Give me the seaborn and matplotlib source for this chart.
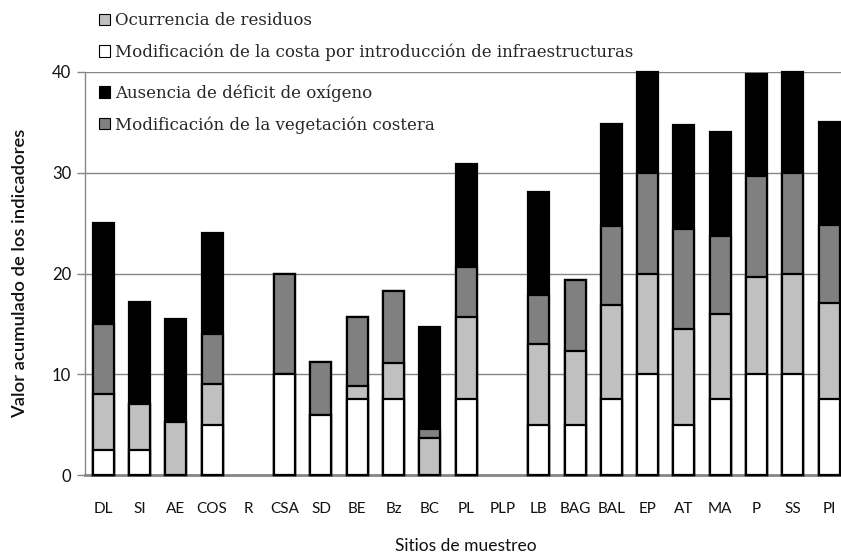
import matplotlib
matplotlib.use("Agg")
import matplotlib.pyplot as plt
from matplotlib.patches import Patch
import numpy as np
import pandas as pd
import seaborn as sns

# datos
sitios = ["DL", "SI", "AE", "COS", "R", "CSA", "SD", "BE", "Bz", "BC", "PL",
          "PLP", "LB", "BAG", "BAL", "EP", "AT", "MA", "P", "SS", "PI"]
costa = [2.5, 2.5, 0, 5, 0, 10, 6, 7.5, 7.5, 0, 7.5, 0, 5, 5, 7.5, 10, 5, 7.5, 10, 10, 7.5]
residuos = [5.5, 4.5, 5.3, 4, 0, 0, 0, 1.3, 3.6, 3.7, 8.2, 0, 8, 7.3, 9.4, 10, 9.5, 8.5, 9.7, 10, 9.6]
vegetacion = [7, 0, 0, 5, 0, 10, 5.2, 6.9, 7.2, 0.9, 4.9, 0, 4.9, 7.1, 7.8, 10, 9.9, 7.7, 10, 10, 7.7]
oxigeno = [10, 10.2, 10.2, 10, 0, 0, 0, 0, 0, 10.1, 10.3, 0, 10.2, 0, 10.1, 10, 10.3, 10.3, 10.1, 10, 10.2]

etiquetas = {
    "residuos": "Ocurrencia de residuos",
    "costa": "Modificación de la costa por introducción de infraestructuras",
    "oxigeno": "Ausencia de déficit de oxígeno",
    "vegetacion": "Modificación de la vegetación costera",
}
colores = {"costa": "#FFFFFF", "residuos": "#C0C0C0",
           "vegetacion": "#808080", "oxigeno": "#000000"}

sns.set_style("white")
plt.rcParams["font.family"] = ["Lato", "DejaVu Sans"]

df = pd.DataFrame({"sitio": sitios, "costa": costa, "residuos": residuos,
                   "vegetacion": vegetacion, "oxigeno": oxigeno})
# acumulados para apilar (de abajo hacia arriba)
capas = ["costa", "residuos", "vegetacion", "oxigeno"]
acum = df[capas].cumsum(axis=1)

fig = plt.figure(figsize=(8.41, 5.55), dpi=100)
ax = fig.add_axes([0.1011, 0.1441, 0.9064, 0.7262])

# se dibuja del total hacia abajo, cada capa tapa a la anterior
for capa in reversed(capas):
    sns.barplot(x=df["sitio"], y=acum[capa], order=sitios, ax=ax,
                color=colores[capa], saturation=1, width=0.58,
                edgecolor="black", linewidth=1.6, zorder=3)

for p in ax.patches:
    p.set_clip_on(False)
    if p.get_height() == 0:
        p.set_visible(False)

ax.set_ylim(0, 40)
ax.set_xlim(-0.5, 20.5)
ax.set_yticks([0, 10, 20, 30, 40])
ax.yaxis.grid(True, color="#868686", linewidth=1, zorder=0)
ax.set_axisbelow(True)
for s in ["top", "right"]:
    ax.spines[s].set_visible(False)
ax.spines["left"].set_color("#868686")
ax.spines["left"].set_linewidth(1)
ax.spines["bottom"].set_color("#868686")
ax.spines["bottom"].set_linewidth(2)
ax.tick_params(axis="y", left=True, length=6, width=1, color="#868686",
               labelsize=12, pad=4, labelcolor="#111111")
ax.tick_params(axis="x", bottom=False, labelsize=11, pad=16, labelcolor="#111111")

ax.set_xlabel("Sitios de muestreo", fontsize=12.5, labelpad=16, color="#111111")
ax.set_ylabel("Valor acumulado de los indicadores", fontsize=13.3, fontweight="semibold",
              labelpad=17, color="#111111")

def parche(capa):
    return Patch(facecolor=colores[capa], edgecolor="black", linewidth=0.8,
                 label=etiquetas[capa])

fuente_ley = {"family": "DejaVu Serif", "size": 12}
ley1 = fig.legend(handles=[parche("residuos"), parche("costa")],
                  loc="upper left", bbox_to_anchor=(0.118, 0.978), frameon=False,
                  prop=fuente_ley, handlelength=0.66, handleheight=0.66,
                  handletextpad=0.3, labelspacing=0.85, borderpad=0, borderaxespad=0)
ley2 = fig.legend(handles=[parche("oxigeno"), parche("vegetacion")],
                  loc="upper left", bbox_to_anchor=(0.118, 0.848), frameon=False,
                  prop=fuente_ley, handlelength=0.66, handleheight=0.66,
                  handletextpad=0.3, labelspacing=0.85, borderpad=0, borderaxespad=0)

fig.savefig("out.png", dpi=100)
